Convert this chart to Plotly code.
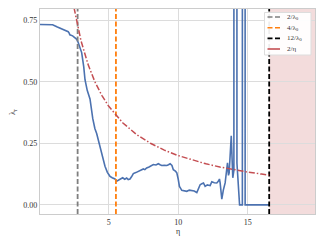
import plotly.graph_objects as go

# ---- data ----
eta = [0.05, 0.5, 0.96, 1.3, 1.7, 2.08, 2.15, 2.2, 2.4, 2.57, 2.7, 2.8, 2.9, 3.05, 3.2, 3.29,
       3.45, 3.65, 3.85, 4.0, 4.13, 4.25, 4.37, 4.55, 4.73, 4.9, 5.09, 5.25, 5.45, 5.57, 5.7,
       5.81, 6.0, 6.15, 6.29, 6.4, 6.53, 6.65, 6.77, 6.95, 7.13, 7.3, 7.49, 7.6, 7.73, 7.9,
       8.05, 8.21, 8.4, 8.57, 8.7, 8.81, 9.0, 9.18, 9.3, 9.42, 9.55, 9.65, 9.8, 9.9, 10.0,
       10.09, 10.26, 10.45, 10.62, 10.8, 10.98, 11.15, 11.34, 11.45, 11.58, 11.7, 11.82,
       11.94, 12.1, 12.3, 12.42, 12.6, 12.78, 12.9, 12.97, 13.02, 13.14, 13.25, 13.38,
       13.55, 13.62, 13.67, 13.82, 13.93, 14.01, 14.04, 14.19, 14.23, 14.42, 14.62, 14.65,
       14.79, 14.82, 16.55]
lam_r = [0.732, 0.732, 0.731, 0.722, 0.712, 0.703, 0.697, 0.690, 0.686, 0.679, 0.672, 0.659,
         0.645, 0.618, 0.560, 0.508, 0.465, 0.430, 0.350, 0.310, 0.290, 0.262, 0.239, 0.195,
         0.157, 0.132, 0.116, 0.110, 0.105, 0.096, 0.101, 0.105, 0.110, 0.104, 0.109, 0.103,
         0.105, 0.115, 0.127, 0.131, 0.136, 0.140, 0.146, 0.143, 0.150, 0.154, 0.158, 0.164,
         0.162, 0.167, 0.163, 0.160, 0.161, 0.160, 0.163, 0.167, 0.160, 0.143, 0.137, 0.130,
         0.105, 0.075, 0.059, 0.057, 0.055, 0.060, 0.059, 0.056, 0.050, 0.068, 0.082, 0.086,
         0.089, 0.075, 0.081, 0.078, 0.094, 0.090, 0.089, 0.097, 0.105, 0.089, 0.023, 0.060,
         0.089, 0.171, 0.120, 0.130, 0.280, 0.110, 0.140, 20.0, 20.0, 0.170, 0.0, 0.0, 20.0,
         20.0, 0.0, 0.0]

lambda0 = 0.725
eta_curve = [2.5, 2.75, 3.0, 3.5, 4.0, 4.5, 5.0, 6.0, 7.0, 8.0, 9.0, 10.0, 11.0, 12.0,
             13.0, 14.0, 15.0, 16.0, 16.55]
ratio = [2 / e for e in eta_curve]

legend_labels = ["2/λ<sub>0</sub>", "4/λ<sub>0</sub>", "12/λ<sub>0</sub>", "2/η"]
xtick_vals = [5, 10, 15]
ytick_vals = [0, 0.25, 0.5, 0.75]
ytick_text = ["0.00", "0.25", "0.50", "0.75"]

BLUE = "#4c72b0"
RED = "#c44e52"
ORANGE = "#ff7f0e"
GRAY = "#7f7f7f"
FONT = "Liberation Serif"
TXT = "#333333"

OFF = 8  # default page body margin
W, H = 325 - OFF, 243 - OFF
# target plot area on screen: x 40..315, y 9..214
ML, MT = 40 - OFF, 9 - OFF
MR = W - (315 - OFF)
MB = H - (214 - OFF)
PW, PH = W - ML - MR, H - MT - MB


def px(x):
    return (x - OFF - ML) / PW


def py(y):
    return (H - MB - (y - OFF)) / PH


fig = go.Figure()

fig.add_trace(go.Scatter(x=eta, y=lam_r, mode="lines", line=dict(color=BLUE, width=1.6),
                         showlegend=False))

ylo, yhi = -0.037, 0.795
dash_main = "5px,2.5px"
vl = [(2 / lambda0, GRAY), (4 / lambda0, ORANGE), (12 / lambda0, "black")]
for val, col in vl:
    fig.add_trace(go.Scatter(x=[val, val], y=[ylo, yhi], mode="lines",
                             line=dict(color=col, width=1.8, dash=dash_main),
                             showlegend=False))

dash_red = "6px,2px,1.5px,2px"
fig.add_trace(go.Scatter(x=eta_curve, y=ratio, mode="lines",
                         line=dict(color=RED, width=1.5, dash=dash_red), showlegend=False))

axis_common = dict(showgrid=True, gridcolor="#dcdcdc", gridwidth=1, zeroline=False,
                   showline=True, linecolor="#cccccc", linewidth=1.3, mirror=True,
                   ticks="", automargin=False,
                   tickfont=dict(family=FONT, size=8, color=TXT))

fig.update_xaxes(range=[0.05, 19.85], tickvals=xtick_vals,
                 ticktext=[str(v) for v in xtick_vals], **axis_common)
fig.update_yaxes(range=[ylo, yhi], tickvals=ytick_vals, ticktext=ytick_text, **axis_common)

fig.update_layout(
    width=W, height=H,
    margin=dict(l=ML, r=MR, t=MT, b=MB),
    plot_bgcolor="white", paper_bgcolor="white",
    showlegend=False,
)

# shaded region beyond 12/lambda0
fig.add_shape(type="rect", xref="x", yref="paper", x0=12 / lambda0, x1=25, y0=0, y1=1,
              fillcolor="rgba(196,78,82,0.2)", line_width=0, layer="below")

# axis titles
fig.add_annotation(text="η", x=px(178), y=py(231), xref="paper", yref="paper",
                   showarrow=False, font=dict(family=FONT, size=8, color=TXT),
                   xanchor="center", yanchor="middle")
fig.add_annotation(text="λ<sub>r</sub>", x=px(13), y=py(112), xref="paper", yref="paper",
                   showarrow=False, textangle=-90, font=dict(family=FONT, size=8, color=TXT),
                   xanchor="center", yanchor="middle")

# legend box (drawn above the data)
fig.add_shape(type="rect", xref="paper", yref="paper", x0=px(264.5), x1=px(311),
              y0=py(55), y1=py(12.5), fillcolor="rgba(255,255,255,0.93)",
              line=dict(color="#dddddd", width=1), layer="above")
leg_cols = [GRAY, ORANGE, "black", RED]
leg_dash = [dash_main, dash_main, dash_main, "solid"]
leg_y = [17.0, 27.7, 38.4, 49.0]
for lab, col, d, yy in zip(legend_labels, leg_cols, leg_dash, leg_y):
    fig.add_shape(type="line", xref="paper", yref="paper", x0=px(267.5), x1=px(280),
                  y0=py(yy), y1=py(yy), line=dict(color=col, width=1.6, dash=d),
                  layer="above")
    fig.add_annotation(text=lab, x=px(285), y=py(yy), xref="paper", yref="paper",
                       showarrow=False, xanchor="left", yanchor="middle",
                       font=dict(family=FONT, size=7, color=TXT))

fig.write_html("out.html")
